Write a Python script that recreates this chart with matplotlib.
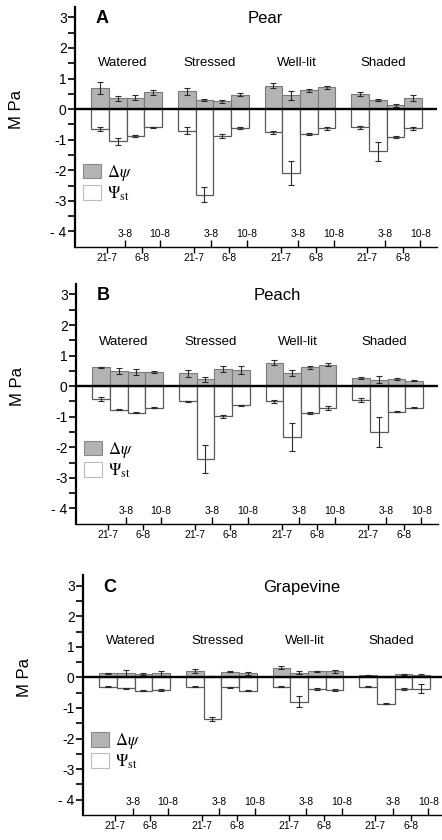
import matplotlib
matplotlib.use('Agg')
import matplotlib.pyplot as plt
import numpy as np
from matplotlib.patches import Patch

plt.rcParams['font.family'] = ['Liberation Sans', 'DejaVu Sans']
plt.rcParams['mathtext.fontset'] = 'stix'

groups = ['Watered', 'Stressed', 'Well-lit', 'Shaded']
dates = ['21-7', '3-8', '6-8', '10-8']
ytick_values = [-4, -3, -2, -1, 0, 1, 2, 3]
ytick_labels = ['- 4', '-3', '-2', '-1', '0', '1', '2', '3']

# Pear (A)
pear_dpsi = [0.68, 0.36, 0.38, 0.55, 0.58, 0.30, 0.25, 0.47, 0.77, 0.45, 0.61, 0.71, 0.50, 0.29, 0.12, 0.36]
pear_dpsi_err = [0.20, 0.08, 0.07, 0.08, 0.12, 0.02, 0.06, 0.05, 0.08, 0.15, 0.05, 0.05, 0.06, 0.03, 0.05, 0.10]
pear_psi = [-0.65, -1.05, -0.87, -0.60, -0.70, -2.80, -0.89, -0.62, -0.75, -2.09, -0.80, -0.62, -0.60, -1.38, -0.91, -0.62]
pear_psi_err = [0.05, 0.12, 0.03, 0.03, 0.10, 0.25, 0.07, 0.04, 0.05, 0.40, 0.03, 0.05, 0.05, 0.32, 0.04, 0.05]

# Peach (B)
peach_dpsi = [0.62, 0.49, 0.46, 0.47, 0.42, 0.23, 0.57, 0.52, 0.77, 0.43, 0.62, 0.70, 0.26, 0.21, 0.24, 0.18]
peach_dpsi_err = [0.02, 0.10, 0.10, 0.04, 0.12, 0.08, 0.10, 0.13, 0.08, 0.10, 0.05, 0.05, 0.03, 0.12, 0.03, 0.02]
peach_psi = [-0.42, -0.77, -0.87, -0.71, -0.50, -2.39, -0.99, -0.63, -0.50, -1.66, -0.88, -0.71, -0.45, -1.50, -0.83, -0.71]
peach_psi_err = [0.05, 0.02, 0.02, 0.02, 0.02, 0.45, 0.04, 0.02, 0.04, 0.45, 0.02, 0.06, 0.07, 0.48, 0.02, 0.02]

# Grapevine (C)
grape_dpsi = [0.13, 0.13, 0.11, 0.13, 0.20, 0.04, 0.19, 0.13, 0.32, 0.16, 0.20, 0.20, 0.07, 0.03, 0.10, 0.08]
grape_dpsi_err = [0.03, 0.10, 0.02, 0.08, 0.06, 0.01, 0.02, 0.04, 0.05, 0.05, 0.02, 0.05, 0.02, 0.01, 0.02, 0.02]
grape_psi = [-0.30, -0.36, -0.44, -0.41, -0.30, -1.36, -0.33, -0.43, -0.30, -0.80, -0.38, -0.41, -0.30, -0.86, -0.38, -0.37]
grape_psi_err = [0.02, 0.02, 0.02, 0.04, 0.02, 0.05, 0.02, 0.03, 0.02, 0.18, 0.02, 0.02, 0.02, 0.02, 0.02, 0.15]

panels = [
    dict(letter='A', title='Pear', dpsi=pear_dpsi, dpsi_err=pear_dpsi_err,
         psi=pear_psi, psi_err=pear_psi_err,
         rect=[75/442, 0.7063, 362/442, 0.2857], title_x=0.525, gl_y=1.5),
    dict(letter='B', title='Peach', dpsi=peach_dpsi, dpsi_err=peach_dpsi_err,
         psi=peach_psi, psi_err=peach_psi_err,
         rect=[76/442, 0.3765, 362/442, 0.2857], title_x=0.555, gl_y=1.45),
    dict(letter='C', title='Grapevine', dpsi=grape_dpsi, dpsi_err=grape_dpsi_err,
         psi=grape_psi, psi_err=grape_psi_err,
         rect=[83/442, 0.0298, 362/442, 0.2857], title_x=0.605, gl_y=1.2),
]

GROUP_PITCH = 4.9
x = np.array([g * GROUP_PITCH + j for g in range(len(groups)) for j in range(len(dates))], dtype=float)
date_idx = np.array([j for g in range(len(groups)) for j in range(len(dates))])
tick_shift = 0.4
lower_mask = (date_idx == 0) | (date_idx == 2)
upper_mask = ~lower_mask
tick_labels = np.array([dates[j] for j in date_idx])

YLIM = (-4.5, 3.35)
XLIM = (-1.41, 19.04)

fig = plt.figure(figsize=(4.42, 8.40), dpi=100)

gray = '#b3b3b3'
for p in panels:
    ax = fig.add_axes(p['rect'])
    ekw = dict(ecolor='#2a2a2a', elinewidth=0.8, capsize=2.5, capthick=0.8)
    ax.bar(x, p['dpsi'], width=1.0, color=gray, edgecolor='#7a7a7a', linewidth=0.8,
           yerr=p['dpsi_err'], error_kw=ekw, zorder=2)
    ax.bar(x, p['psi'], width=1.0, color='white', edgecolor='#5a5a5a', linewidth=0.9,
           yerr=p['psi_err'], error_kw=ekw, zorder=2)
    ax.axhline(0, color='black', lw=1.7, zorder=4)

    ax.set_xlim(*XLIM)
    ax.set_ylim(*YLIM)

    for s in ['top', 'right']:
        ax.spines[s].set_visible(False)
    ax.spines['left'].set_linewidth(1.6)
    ax.spines['bottom'].set_linewidth(1.0)

    ax.set_yticks(ytick_values)
    ax.set_yticklabels(ytick_labels, fontsize=10)
    ax.set_yticks(np.arange(-3.5, 3.0, 1.0), minor=True)
    ax.tick_params(axis='y', which='major', length=5, width=1.2, pad=1)
    ax.tick_params(axis='y', which='minor', length=5, width=1.2)

    ax.set_xticks(x[lower_mask] + tick_shift)
    ax.set_xticklabels(tick_labels[lower_mask], fontsize=7.5)
    ax.set_xticks(x[upper_mask] + tick_shift, minor=True)
    ax.set_xticklabels(tick_labels[upper_mask], minor=True, fontsize=7.5)
    ax.tick_params(axis='x', which='major', direction='out', length=4, width=1.0, pad=0.5)
    ax.tick_params(axis='x', which='minor', direction='in', length=5, width=1.0, pad=-13)

    ax.set_ylabel('M Pa', fontsize=12)
    ax.yaxis.set_label_coords(-0.14, (0 - YLIM[0]) / (YLIM[1] - YLIM[0]))

    ax.text(0.075, 2.95, p['letter'], transform=ax.get_yaxis_transform(),
            fontsize=13, fontweight='bold', ha='center', va='center')
    ax.text(p['title_x'], 2.95, p['title'], transform=ax.get_yaxis_transform(),
            fontsize=12, ha='center', va='center')
    for g, name in enumerate(groups):
        cx = x[date_idx == 0][g] + 1.5 - 0.2
        ax.text(cx, p['gl_y'], name, fontsize=9.5, ha='center', va='center')

    handles = [Patch(facecolor=gray, edgecolor='#8a8a8a', linewidth=0.8),
               Patch(facecolor='white', edgecolor='#bbbbbb', linewidth=0.8)]
    ax.legend(handles, [r'$\Delta\psi$', r'$\Psi_{\rm st}$'], loc='upper left',
              bbox_to_anchor=(0.022, 0.35), frameon=False, fontsize=12,
              borderpad=0, borderaxespad=0, handlelength=1.1, handleheight=1.0,
              handletextpad=0.35, labelspacing=0.1)

fig.savefig('out.png', dpi=100)
